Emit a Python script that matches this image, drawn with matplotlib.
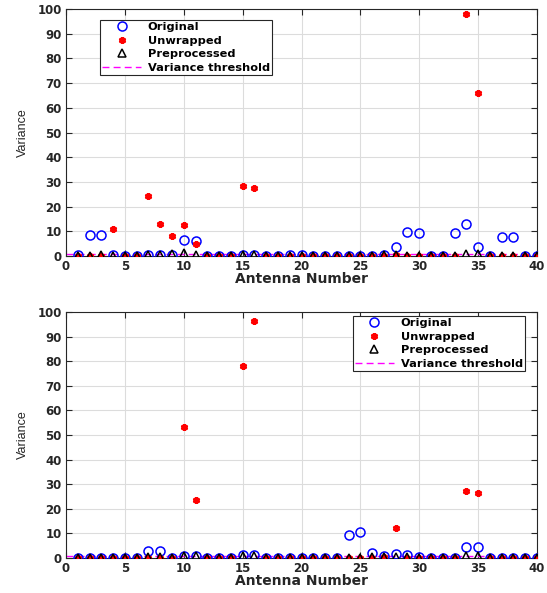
import numpy as np
import matplotlib
matplotlib.use("Agg")
import matplotlib.pyplot as plt

antennas = np.arange(1, 41)

# ---- Top panel data ----
top_original = [0.3, 8.6, 8.4, 0.3, 0.2, 0.2, 0.4, 0.4, 0.5, 6.6,
                6.2, 0.2, 0.2, 0.2, 0.4, 0.4, 0.2, 0.2, 0.3, 0.3,
                0.2, 0.2, 0.2, 0.2, 0.2, 0.2, 0.3, 3.8, 9.6, 9.3,
                0.2, 0.2, 9.3, 12.8, 3.8, 0.2, 7.6, 7.8, 0.2, 0.2]
top_unwrapped = [0.1, 0.1, 0.2, 10.8, 0.1, 0.1, 24.1, 12.8, 8.2, 12.7,
                 4.9, 0.1, 0.1, 0.1, 28.4, 27.5, 0.1, 0.1, 0.1, 0.1,
                 0.1, 0.1, 0.1, 0.1, 0.1, 0.1, 0.2, 0.3, 0.1, 0.1,
                 0.1, 0.1, 0.1, 98.0, 66.0, 0.1, 0.1, 0.1, 0.1, 0.1]
top_preprocessed = [0.2, 0.2, 0.3, 0.2, 0.2, 0.2, 0.5, 0.5, 0.7, 1.3,
                    0.4, 0.2, 0.2, 0.2, 0.5, 0.5, 0.2, 0.2, 0.2, 0.2,
                    0.2, 0.2, 0.2, 0.2, 0.2, 0.2, 0.3, 0.4, 0.2, 0.2,
                    0.2, 0.2, 0.2, 0.8, 0.8, 0.2, 0.2, 0.2, 0.2, 0.2]

# ---- Bottom panel data ----
bot_original = [0.2, 0.2, 0.2, 0.2, 0.2, 0.2, 2.8, 2.8, 0.2, 1.0,
                1.0, 0.2, 0.2, 0.2, 1.1, 1.1, 0.2, 0.2, 0.2, 0.2,
                0.2, 0.2, 0.2, 9.3, 10.4, 2.2, 1.0, 1.6, 1.4, 0.4,
                0.2, 0.2, 0.2, 4.6, 4.6, 0.2, 0.2, 0.2, 0.2, 0.2]
bot_unwrapped = [0.1, 0.1, 0.1, 0.1, 0.1, 0.1, 0.2, 0.2, 0.1, 53.1,
                 23.6, 0.1, 0.1, 0.1, 78.2, 96.3, 0.1, 0.1, 0.1, 0.1,
                 0.1, 0.1, 0.1, 0.1, 0.1, 0.2, 0.3, 12.2, 0.1, 0.1,
                 0.1, 0.1, 0.1, 27.1, 26.5, 0.1, 0.1, 0.1, 0.1, 0.1]
bot_preprocessed = [0.2, 0.2, 0.2, 0.2, 0.2, 0.2, 0.3, 0.3, 0.2, 0.8,
                    0.8, 0.2, 0.2, 0.2, 0.9, 0.9, 0.2, 0.2, 0.2, 0.2,
                    0.2, 0.2, 0.2, 0.2, 0.2, 0.3, 0.4, 0.6, 0.3, 0.2,
                    0.2, 0.2, 0.2, 0.7, 0.7, 0.2, 0.2, 0.2, 0.2, 0.2]

threshold = 0.9
x_ticks = [0, 5, 10, 15, 20, 25, 30, 35, 40]
y_ticks = [0, 10, 20, 30, 40, 50, 60, 70, 80, 90, 100]

plt.rcParams['font.family'] = ['Liberation Sans', 'DejaVu Sans']

fig = plt.figure(figsize=(5.47, 5.93), dpi=100)
W, H = 547, 593
ax1 = fig.add_axes([66 / W, 1 - 256 / H, (537 - 66) / W, (256 - 9) / H])
ax2 = fig.add_axes([66 / W, 1 - 558 / H, (537 - 66) / W, (558 - 312) / H])

star = (6, 2, 0)

def draw(ax, orig, unw, pre, legend_loc, bbox):
    ax.plot(antennas, orig, linestyle='none', marker='o', markersize=6.5,
            markerfacecolor='none', markeredgecolor='#0000ff', markeredgewidth=1.1,
            label='Original', zorder=3)
    ax.plot(antennas, unw, linestyle='none', marker=star, markersize=5,
            color='#ff0000', markeredgewidth=1.8, label='Unwrapped', zorder=4)
    ax.plot(antennas, pre, linestyle='none', marker='^', markersize=6,
            markerfacecolor='none', markeredgecolor='black', markeredgewidth=1.1,
            label='Preprocessed', zorder=5)
    ax.axhline(threshold, color='#ff00ff', linestyle=(0, (5, 3)), linewidth=1.0,
               label='Variance threshold', zorder=2)
    ax.set_xlim(0, 40)
    ax.set_ylim(0, 100)
    ax.set_xticks(x_ticks)
    ax.set_yticks(y_ticks)
    ax.grid(True, color='#dcdcdc', linewidth=0.8)
    ax.set_axisbelow(True)
    ax.tick_params(direction='in', top=True, right=True, length=4, width=0.8,
                   colors='#262626', labelsize=8.5, pad=3)
    for lab in ax.get_xticklabels() + ax.get_yticklabels():
        lab.set_fontweight('bold')
        lab.set_family(['DejaVu Sans'])
    for sp in ax.spines.values():
        sp.set_color('#262626')
        sp.set_linewidth(0.8)
    ax.set_xlabel('Antenna Number', fontsize=10, fontweight='bold',
                  family=['DejaVu Sans'], labelpad=-1, color='#262626')
    ax.set_ylabel('Variance', fontsize=9, color='#262626', labelpad=6)
    leg = ax.legend(loc=legend_loc, bbox_to_anchor=bbox, frameon=True, fancybox=False,
                    edgecolor='#262626', framealpha=1,
                    prop={'weight': 'bold', 'family': ['DejaVu Sans'], 'size': 8.2},
                    handlelength=3.4, handletextpad=0.6, borderpad=0.2,
                    labelspacing=0.3, borderaxespad=0)
    leg.get_frame().set_linewidth(0.8)

draw(ax1, top_original, top_unwrapped, top_preprocessed, 'upper left',
     ((100 - 66) / 471, 1 - (20 - 9) / 247))
draw(ax2, bot_original, bot_unwrapped, bot_preprocessed, 'upper right',
     ((525 - 66) / 471, 1 - (316 - 312) / 246))

fig.savefig('out.png', dpi=100)
